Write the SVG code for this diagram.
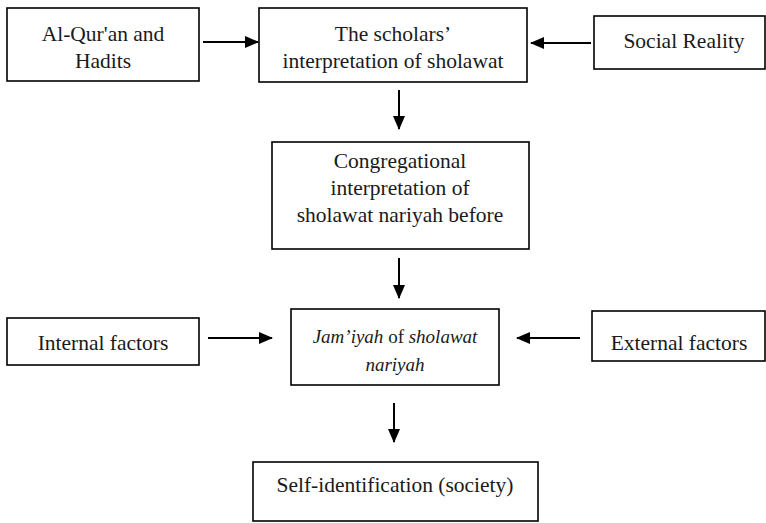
<svg xmlns="http://www.w3.org/2000/svg" width="766" height="523" viewBox="0 0 766 523">
<style>
.box{fill:#fff;stroke:#000;stroke-width:1.6}
.t{font-family:"Liberation Serif",serif;font-size:21.5px;fill:#1a1a1a;text-anchor:middle}
.ti{font-family:"Liberation Serif",serif;font-size:19px;fill:#1a1a1a;text-anchor:middle}
.c{stroke:#000;stroke-width:2;fill:none;marker-end:url(#ah)}
</style>
<defs>
<marker id="ah" markerUnits="userSpaceOnUse" markerWidth="14" markerHeight="12" refX="13" refY="6" orient="auto">
<path d="M0,0 L14,6 L0,12 Z" fill="#000"/>
</marker>
</defs>
<rect width="766" height="523" fill="#fff"/>
<g id="connectors">
<line class="c" x1="203" y1="42" x2="258" y2="42"/>
<line class="c" x1="591" y1="43" x2="531" y2="43"/>
<line class="c" x1="399" y1="90" x2="399" y2="129"/>
<line class="c" x1="399" y1="258" x2="399" y2="298"/>
<line class="c" x1="208" y1="338" x2="272" y2="338"/>
<line class="c" x1="580" y1="338" x2="517" y2="338"/>
<line class="c" x1="394" y1="403" x2="394" y2="442"/>
</g>
<g id="n-quran">
<rect class="box" x="7" y="8" width="192" height="73"/>
<text class="t" x="103" y="41">Al-Qur'an and</text>
<text class="t" x="103" y="68">Hadits</text>
</g>
<g id="n-scholars">
<rect class="box" x="259" y="8" width="268" height="74"/>
<text class="t" x="393" y="41">The scholars’</text>
<text class="t" x="393" y="68">interpretation of sholawat</text>
</g>
<g id="n-social">
<rect class="box" x="594" y="16" width="171" height="53"/>
<text class="t" x="684" y="48">Social Reality</text>
</g>
<g id="n-congregational">
<rect class="box" x="272" y="142" width="257" height="107"/>
<text class="t" x="400" y="168">Congregational</text>
<text class="t" x="400" y="195">interpretation of</text>
<text class="t" x="400" y="222">sholawat nariyah before</text>
</g>
<g id="n-internal">
<rect class="box" x="7" y="318" width="192" height="47"/>
<text class="t" x="103" y="350">Internal factors</text>
</g>
<g id="n-jamiyah">
<rect class="box" x="291" y="309" width="208" height="76"/>
<text class="ti" x="395" y="343"><tspan font-style="italic">Jam’iyah</tspan> of <tspan font-style="italic">sholawat</tspan></text>
<text class="ti" x="395" y="371" font-style="italic">nariyah</text>
</g>
<g id="n-external">
<rect class="box" x="592" y="311" width="173" height="50"/>
<text class="t" x="679" y="350">External factors</text>
</g>
<g id="n-self">
<rect class="box" x="253" y="462" width="285" height="59"/>
<text class="t" x="395" y="492">Self-identification (society)</text>
</g>
</svg>
